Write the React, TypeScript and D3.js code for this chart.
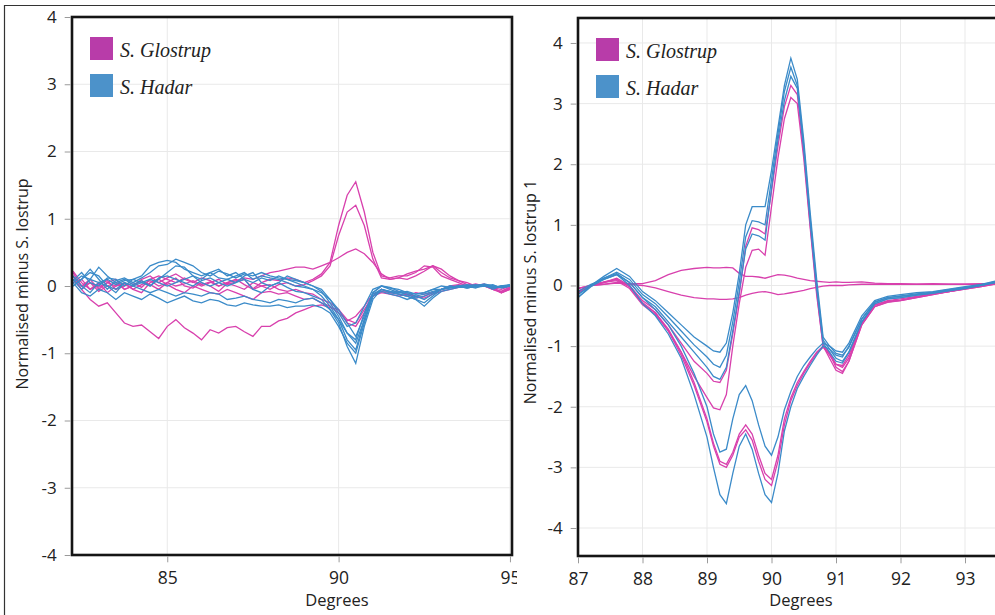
import * as d3 from 'd3';
import { useEffect, useRef } from 'react';

// x positions (degrees) of the sampled points, one list per panel
const leftDeg = [82.25, 82.5, 82.75, 83, 83.25, 83.5, 83.75, 84, 84.25, 84.5, 84.75, 85, 85.25, 85.5, 85.75, 86, 86.25, 86.5, 86.75, 87, 87.25, 87.5, 87.75, 88, 88.25, 88.5, 88.75, 89, 89.25, 89.5, 89.75, 90, 90.25, 90.5, 90.75, 91, 91.25, 91.5, 91.75, 92, 92.25, 92.5, 92.75, 93, 93.25, 93.5, 93.75, 94, 94.25, 94.5, 94.75, 95];

const leftGlostrup = [
  [0.22, 0.05, -0.05, 0.02, 0.08, -0.05, 0.0, 0.05, -0.02, 0.1, 0.15, 0.1, 0.05, 0.12, 0.06, 0.0, 0.05, 0.1, 0.02, 0.06, 0.1, -0.04, 0.05, 0.1, 0.08, 0.12, 0.1, 0.05, 0.1, 0.18, 0.35, 0.9, 1.35, 1.55, 1.1, 0.5, 0.15, 0.12, 0.15, 0.15, 0.2, 0.3, 0.28, 0.15, 0.1, 0.05, 0.0, 0.02, 0.0, -0.02, -0.1, -0.05],
  [0.1, -0.05, 0.05, -0.08, 0.0, 0.05, -0.05, 0.0, 0.08, 0.02, -0.05, 0.05, 0.12, 0.0, -0.03, 0.05, 0.0, -0.08, 0.04, 0.0, -0.05, 0.05, 0.0, -0.05, 0.02, 0.05, 0.0, 0.02, 0.08, 0.15, 0.3, 0.75, 1.1, 1.2, 0.9, 0.4, 0.12, 0.1, 0.12, 0.18, 0.22, 0.25, 0.3, 0.2, 0.12, 0.08, 0.02, 0.0, 0.02, -0.05, -0.08, -0.02],
  [0.15, 0.0, 0.05, -0.02, 0.05, 0.0, 0.03, -0.05, 0.02, 0.08, 0.0, 0.05, 0.0, 0.03, 0.08, 0.02, 0.06, 0.0, 0.05, 0.08, 0.12, 0.1, 0.15, 0.2, 0.22, 0.25, 0.28, 0.28, 0.25, 0.3, 0.35, 0.42, 0.5, 0.55, 0.48, 0.35, 0.18, 0.1, 0.12, 0.1, 0.15, 0.22, 0.3, 0.25, 0.15, 0.08, 0.05, 0.0, 0.03, -0.03, -0.05, 0.0],
  [0.15, -0.05, -0.2, -0.3, -0.25, -0.4, -0.55, -0.6, -0.58, -0.68, -0.78, -0.6, -0.5, -0.62, -0.7, -0.8, -0.65, -0.7, -0.62, -0.6, -0.68, -0.75, -0.6, -0.6, -0.52, -0.48, -0.4, -0.35, -0.3, -0.28, -0.32, -0.35, -0.5, -0.55, -0.35, -0.15, -0.1, -0.12, -0.15, -0.12, -0.15, -0.18, -0.12, -0.08, -0.05, -0.02, 0.0, 0.02, 0.0, -0.05, -0.1, -0.05],
  [0.05, 0.1, -0.05, 0.05, -0.1, 0.0, 0.05, -0.05, -0.1, 0.05, 0.1, 0.02, -0.05, -0.1, 0.0, -0.05, -0.1, -0.12, -0.05, -0.1, -0.15, -0.2, -0.1, -0.08, -0.12, -0.1, -0.15, -0.2, -0.18, -0.25, -0.3, -0.4, -0.52, -0.45, -0.3, -0.12, -0.08, -0.1, -0.12, -0.15, -0.1, -0.12, -0.1, -0.05, -0.02, 0.0, -0.02, 0.0, 0.02, -0.03, -0.1, -0.03],
  [0.2, 0.0, 0.1, -0.05, 0.05, 0.1, -0.05, 0.0, 0.1, 0.15, 0.05, 0.12, 0.18, 0.1, 0.05, 0.12, 0.08, 0.0, 0.05, 0.1, 0.02, -0.05, 0.0, 0.02, -0.05, -0.08, -0.05, -0.1, -0.12, -0.2, -0.25, -0.35, -0.55, -0.6, -0.4, -0.15, -0.05, -0.1, -0.08, -0.12, -0.18, -0.15, -0.1, -0.05, 0.0, 0.02, 0.0, 0.03, 0.0, -0.05, -0.08, -0.02],
];

const leftHadar = [
  [0.05, 0.15, 0.1, 0.05, 0.1, 0.02, 0.08, 0.1, 0.15, 0.3, 0.35, 0.38, 0.35, 0.25, 0.2, 0.15, 0.2, 0.12, 0.1, 0.15, 0.2, 0.1, 0.15, 0.12, 0.1, 0.05, 0.0, -0.02, -0.05, -0.1, -0.2, -0.35, -0.55, -0.75, -0.45, -0.1, 0.0, -0.05, -0.1, -0.08, -0.12, -0.1, -0.05, -0.05, 0.0, -0.02, 0.0, -0.03, 0.02, 0.0, -0.02, 0.0],
  [0.1, -0.05, 0.1, 0.28, 0.15, 0.05, 0.1, 0.02, 0.08, 0.0, 0.1, 0.2, 0.3, 0.28, 0.15, 0.1, 0.2, 0.25, 0.15, 0.2, 0.1, 0.05, 0.12, 0.08, 0.15, 0.1, 0.05, 0.0, -0.05, -0.15, -0.3, -0.5, -0.8, -0.95, -0.5, -0.15, -0.05, -0.08, -0.12, -0.15, -0.2, -0.25, -0.15, -0.05, -0.02, 0.0, -0.03, 0.0, 0.02, -0.02, 0.0, 0.0],
  [0.0, 0.1, 0.2, 0.15, 0.0, -0.1, 0.05, 0.0, 0.05, 0.1, 0.05, 0.0, 0.05, 0.1, 0.15, 0.05, 0.0, 0.05, 0.1, 0.05, 0.1, -0.05, -0.1, 0.0, 0.05, -0.02, -0.08, -0.1, -0.15, -0.2, -0.35, -0.55, -0.9, -1.15, -0.6, -0.2, -0.05, -0.1, -0.12, -0.15, -0.2, -0.3, -0.18, -0.08, -0.05, -0.02, 0.0, -0.02, 0.0, 0.02, -0.03, 0.0],
  [0.05, -0.1, -0.15, -0.05, -0.1, -0.2, -0.1, -0.15, -0.2, -0.12, -0.18, -0.25, -0.2, -0.15, -0.22, -0.25, -0.2, -0.22, -0.28, -0.3, -0.25, -0.28, -0.3, -0.3, -0.28, -0.32, -0.3, -0.3, -0.28, -0.32, -0.4, -0.6, -0.85, -1.0, -0.55, -0.15, -0.08, -0.12, -0.15, -0.2, -0.15, -0.2, -0.12, -0.05, -0.02, 0.0, -0.03, 0.0, 0.02, -0.05, 0.0, 0.0],
  [0.15, 0.0, -0.1, 0.05, 0.0, -0.05, 0.05, 0.0, -0.05, -0.1, -0.05, -0.1, -0.15, -0.1, -0.12, -0.15, -0.1, -0.12, -0.2, -0.18, -0.15, -0.2, -0.22, -0.25, -0.2, -0.22, -0.25, -0.2, -0.18, -0.25, -0.35, -0.5, -0.7, -0.85, -0.5, -0.12, -0.05, -0.08, -0.1, -0.12, -0.18, -0.15, -0.1, -0.05, -0.03, 0.0, -0.02, 0.0, 0.0, -0.03, 0.0, 0.02],
  [0.08, 0.2, 0.05, 0.0, 0.12, 0.1, 0.0, 0.1, 0.05, 0.0, 0.12, 0.15, 0.1, 0.05, 0.0, 0.08, 0.12, 0.05, 0.0, 0.05, 0.15, 0.2, 0.05, 0.0, 0.05, 0.15, 0.1, 0.05, 0.0, -0.05, -0.2, -0.4, -0.6, -0.55, -0.3, -0.05, 0.0, -0.02, -0.08, -0.1, -0.15, -0.12, -0.08, -0.05, 0.0, -0.02, 0.0, 0.02, 0.0, 0.0, -0.02, 0.0],
  [0.0, 0.1, 0.25, 0.1, -0.05, 0.08, 0.12, 0.05, 0.12, 0.2, 0.3, 0.32, 0.4, 0.35, 0.3, 0.2, 0.15, 0.22, 0.18, 0.12, 0.18, 0.15, 0.2, 0.15, 0.12, 0.1, 0.08, 0.05, 0.0, -0.08, -0.25, -0.45, -0.7, -0.8, -0.4, -0.1, 0.0, -0.03, -0.05, -0.1, -0.12, -0.1, -0.05, 0.0, -0.02, 0.0, 0.02, 0.0, 0.03, 0.0, -0.02, 0.02],
];

const rightDeg = [87, 87.2, 87.4, 87.6, 87.8, 88, 88.2, 88.4, 88.6, 88.8, 89, 89.1, 89.2, 89.3, 89.4, 89.5, 89.6, 89.7, 89.8, 89.9, 90, 90.1, 90.2, 90.3, 90.4, 90.5, 90.6, 90.7, 90.8, 90.9, 91, 91.1, 91.2, 91.4, 91.6, 91.8, 92, 92.25, 92.5, 92.75, 93, 93.25, 93.5];

const rightGlostrup = [
  [-0.1, 0.0, 0.05, 0.12, 0.0, -0.25, -0.4, -0.65, -0.95, -1.25, -1.45, -1.58, -1.6, -1.4, -0.8, -0.15, 0.65, 0.95, 0.92, 0.85, 1.55, 2.3, 2.95, 3.3, 3.15, 2.2, 1.0, -0.1, -1.0, -1.15, -1.3, -1.32, -1.15, -0.62, -0.32, -0.25, -0.22, -0.18, -0.14, -0.1, -0.05, 0.0, 0.04],
  [-0.1, 0.0, 0.05, 0.1, -0.02, -0.28, -0.45, -0.75, -1.1, -1.5, -1.85, -2.02, -2.05, -1.8, -1.0, -0.3, 0.3, 0.58, 0.6, 0.5, 1.3, 2.1, 2.75, 3.1, 3.0, 2.1, 0.95, -0.15, -1.0, -1.2, -1.4, -1.45, -1.25, -0.65, -0.35, -0.27, -0.25, -0.2, -0.15, -0.1, -0.06, -0.02, 0.03],
  [-0.12, 0.0, 0.06, 0.1, -0.02, -0.3, -0.45, -0.72, -1.1, -1.6, -2.2, -2.6, -2.9, -2.95, -2.75, -2.45, -2.3, -2.45, -2.8, -3.1, -3.2, -2.8, -2.2, -1.85, -1.6, -1.42, -1.25, -1.1, -1.0, -1.1, -1.3, -1.35, -1.2, -0.62, -0.33, -0.26, -0.24, -0.19, -0.14, -0.1, -0.05, -0.01, 0.04],
  [-0.12, 0.0, 0.05, 0.08, -0.05, -0.32, -0.48, -0.75, -1.15, -1.65, -2.25, -2.65, -2.95, -3.0, -2.8, -2.5, -2.38, -2.55, -2.9, -3.2, -3.3, -2.9, -2.3, -1.9, -1.65, -1.45, -1.28, -1.12, -1.02, -1.12, -1.35, -1.42, -1.25, -0.65, -0.35, -0.28, -0.25, -0.2, -0.15, -0.1, -0.06, -0.02, 0.03],
  [-0.05, 0.0, 0.02, 0.05, 0.03, 0.03, 0.08, 0.18, 0.25, 0.28, 0.3, 0.29, 0.29, 0.3, 0.29, 0.2, 0.15, 0.15, 0.14, 0.12, 0.15, 0.18, 0.17, 0.15, 0.12, 0.1, 0.08, 0.07, 0.06, 0.05, 0.06, 0.05, 0.05, 0.06, 0.04, 0.03, 0.03, 0.02, 0.03, 0.02, 0.02, 0.03, 0.03],
  [-0.05, 0.0, 0.02, 0.04, 0.02, 0.0, -0.04, -0.1, -0.16, -0.2, -0.22, -0.22, -0.23, -0.23, -0.22, -0.2, -0.16, -0.13, -0.11, -0.1, -0.12, -0.15, -0.14, -0.12, -0.1, -0.08, -0.05, -0.03, -0.01, 0.0, 0.0, 0.0, 0.01, 0.02, 0.02, 0.02, 0.02, 0.02, 0.02, 0.02, 0.02, 0.02, 0.03],
];

const rightHadar = [
  [-0.2, 0.0, 0.15, 0.28, 0.15, -0.1, -0.25, -0.45, -0.65, -0.85, -1.0, -1.08, -1.1, -0.95, -0.45, 0.2, 1.0, 1.3, 1.3, 1.3, 1.9, 2.6, 3.3, 3.75, 3.4, 2.4, 1.2, 0.1, -0.85, -1.0, -1.08, -1.1, -0.95, -0.5, -0.25, -0.18, -0.15, -0.12, -0.1, -0.06, -0.02, 0.02, 0.08],
  [-0.15, 0.0, 0.12, 0.22, 0.1, -0.15, -0.3, -0.52, -0.75, -0.98, -1.18, -1.3, -1.35, -1.15, -0.6, 0.05, 0.8, 1.07, 1.05, 1.0, 1.75, 2.5, 3.2, 3.6, 3.3, 2.3, 1.1, 0.0, -0.9, -1.05, -1.15, -1.18, -1.0, -0.55, -0.28, -0.2, -0.18, -0.15, -0.12, -0.08, -0.04, 0.0, 0.06],
  [-0.1, 0.02, 0.1, 0.18, 0.05, -0.2, -0.35, -0.6, -0.85, -1.1, -1.35, -1.5, -1.55, -1.35, -0.75, -0.1, 0.6, 0.85, 0.82, 0.75, 1.6, 2.4, 3.05, 3.45, 3.25, 2.25, 1.05, -0.05, -0.95, -1.1, -1.25, -1.28, -1.1, -0.6, -0.3, -0.22, -0.2, -0.16, -0.13, -0.09, -0.05, 0.0, 0.05],
  [-0.15, 0.0, 0.12, 0.2, 0.05, -0.2, -0.4, -0.65, -1.0, -1.45, -2.0, -2.45, -2.75, -2.7, -2.2, -1.8, -1.65, -1.9, -2.3, -2.65, -2.8, -2.5, -2.05, -1.75, -1.5, -1.32, -1.18, -1.05, -0.95, -1.0, -1.12, -1.15, -1.02, -0.55, -0.27, -0.2, -0.17, -0.14, -0.11, -0.07, -0.03, 0.01, 0.07],
  [-0.2, -0.02, 0.1, 0.18, 0.0, -0.3, -0.5, -0.8, -1.2, -1.8, -2.5, -3.0, -3.45, -3.6, -3.1, -2.65, -2.45, -2.7, -3.1, -3.45, -3.58, -3.1, -2.4, -2.0, -1.7, -1.5, -1.32, -1.15, -1.0, -1.05, -1.2, -1.25, -1.1, -0.6, -0.3, -0.22, -0.2, -0.16, -0.12, -0.08, -0.04, 0.0, 0.06],
];

const leftXTicks = [85, 90, 95];
const rightXTicks = [87, 88, 89, 90, 91, 92, 93];
const yTicks = [-4, -3, -2, -1, 0, 1, 2, 3, 4];
const legendLabels = ['S. Glostrup', 'S. Hadar'];

const glostrupLine = '#d840ad';
const hadarLine = '#3b8bc9';
const glostrupSwatch = '#b83ca9';
const hadarSwatch = '#4c92ca';
const gridColor = '#e9e9e9';
const sansFont = '"Open Sans", "DejaVu Sans", sans-serif';

const drawPanel = (svg, opt) => {
  const { id, left, right, top, bottom, xDomain, yDomain, xTicks, deg, glostrup, hadar, yLabel, yLabelX, yLabelY, degreesX, clipRight } = opt;
  const x = d3.scaleLinear(xDomain, [left, right]);
  const y = d3.scaleLinear(yDomain, [bottom, top]);

  svg.append('clipPath').attr('id', `${id}-panel`)
    .append('rect').attr('x', 0).attr('y', 0).attr('width', clipRight).attr('height', 615);
  svg.append('clipPath').attr('id', `${id}-plot`)
    .append('rect').attr('x', left).attr('y', top).attr('width', right - left).attr('height', bottom - top);

  const g = svg.append('g').attr('clip-path', `url(#${id}-panel)`);

  // grid
  g.append('g')
    .selectAll('line')
    .data(xTicks)
    .join('line')
    .attr('x1', (d) => x(d)).attr('x2', (d) => x(d))
    .attr('y1', top).attr('y2', bottom)
    .attr('stroke', gridColor).attr('stroke-width', 1);
  g.append('g')
    .selectAll('line')
    .data(yTicks.filter((d) => y(d) > top + 2 && y(d) < bottom - 2))
    .join('line')
    .attr('x1', left).attr('x2', right)
    .attr('y1', (d) => y(d)).attr('y2', (d) => y(d))
    .attr('stroke', gridColor).attr('stroke-width', 1);

  // curves
  const line = d3.line().x((_, i) => x(deg[i])).y((d) => y(d));
  const lines = g.append('g').attr('clip-path', `url(#${id}-plot)`).attr('fill', 'none').attr('stroke-width', 1.3);
  glostrup.forEach((s) => lines.append('path').attr('d', line(s)).attr('stroke', glostrupLine));
  hadar.forEach((s) => lines.append('path').attr('d', line(s)).attr('stroke', hadarLine));

  // frame
  g.append('rect')
    .attr('x', left).attr('y', top)
    .attr('width', right - left).attr('height', bottom - top)
    .attr('fill', 'none').attr('stroke', '#151515').attr('stroke-width', 2.6);

  // y axis
  g.append('g')
    .attr('transform', `translate(${left - 1.3},0)`)
    .call(d3.axisLeft(y).tickValues(yTicks).tickSize(6).tickPadding(8).tickFormat((d) => String(d)))
    .call((a) => a.select('.domain').remove())
    .call((a) => a.selectAll('.tick line').attr('stroke', '#9a9a9a'))
    .call((a) => a.selectAll('.tick text')
      .attr('font-size', 17).attr('font-family', sansFont).attr('fill', '#222'));

  // x axis
  g.append('g')
    .attr('transform', `translate(0,${bottom + 1.3})`)
    .call(d3.axisBottom(x).tickValues(xTicks).tickSize(6).tickPadding(9).tickFormat((d) => String(d)))
    .call((a) => a.select('.domain').remove())
    .call((a) => a.selectAll('.tick line').attr('stroke', '#9a9a9a'))
    .call((a) => a.selectAll('.tick text')
      .attr('font-size', 17.5).attr('font-family', sansFont).attr('fill', '#222'));

  g.append('text')
    .attr('x', degreesX).attr('y', 606)
    .attr('text-anchor', 'middle')
    .attr('font-size', 16.5).attr('font-family', sansFont).attr('fill', '#222')
    .text('Degrees');

  g.append('text')
    .attr('transform', `translate(${yLabelX},${yLabelY}) rotate(-90)`)
    .attr('text-anchor', 'middle').attr('dy', '0.35em')
    .attr('font-size', 16).attr('font-family', sansFont).attr('fill', '#222')
    .text(yLabel);

  // legend
  const legend = g.append('g').attr('transform', `translate(${left + 18},${top + 20})`);
  [glostrupSwatch, hadarSwatch].forEach((c, i) => {
    legend.append('rect')
      .attr('x', 0).attr('y', i * 37)
      .attr('width', 23).attr('height', 23)
      .attr('fill', c);
    legend.append('text')
      .attr('x', 30).attr('y', i * 37 + 19.5)
      .attr('font-size', 20).attr('font-style', 'italic')
      .attr('font-family', '"Liberation Serif", "DejaVu Serif", serif')
      .attr('fill', '#222')
      .text(legendLabels[i]);
  });
};

const App = () => {
  const svgRef = useRef(null);

  useEffect(() => {
    const svg = d3.select(svgRef.current);
    svg.selectAll('*').remove();

    // thin outer border of the figure
    svg.append('path')
      .attr('d', 'M4.5,615 V5.5 H995')
      .attr('fill', 'none').attr('stroke', '#333').attr('stroke-width', 1.2);

    drawPanel(svg, {
      id: 'lp', left: 72, right: 512, top: 17, bottom: 555,
      xDomain: [82.22, 95.06], yDomain: [-4, 4], xTicks: leftXTicks,
      deg: leftDeg, glostrup: leftGlostrup, hadar: leftHadar,
      yLabel: 'Normalised minus S. lostrup', yLabelX: 22, yLabelY: 284,
      degreesX: 337, clipRight: 517,
    });
    drawPanel(svg, {
      id: 'rp', left: 578, right: 1040, top: 18, bottom: 556,
      xDomain: [87, 87 + 462 / 64.5], yDomain: [-4.462, 4.412], xTicks: rightXTicks,
      deg: rightDeg, glostrup: rightGlostrup, hadar: rightHadar,
      yLabel: 'Normalised minus S. lostrup 1', yLabelX: 530, yLabelY: 292,
      degreesX: 801, clipRight: 995,
    });
  }, []);

  return (
    <svg
      ref={svgRef}
      width={995}
      height={615}
      style={{ position: 'absolute', left: 0, top: 0, background: '#fff' }}
    />
  );
};

export default App;
